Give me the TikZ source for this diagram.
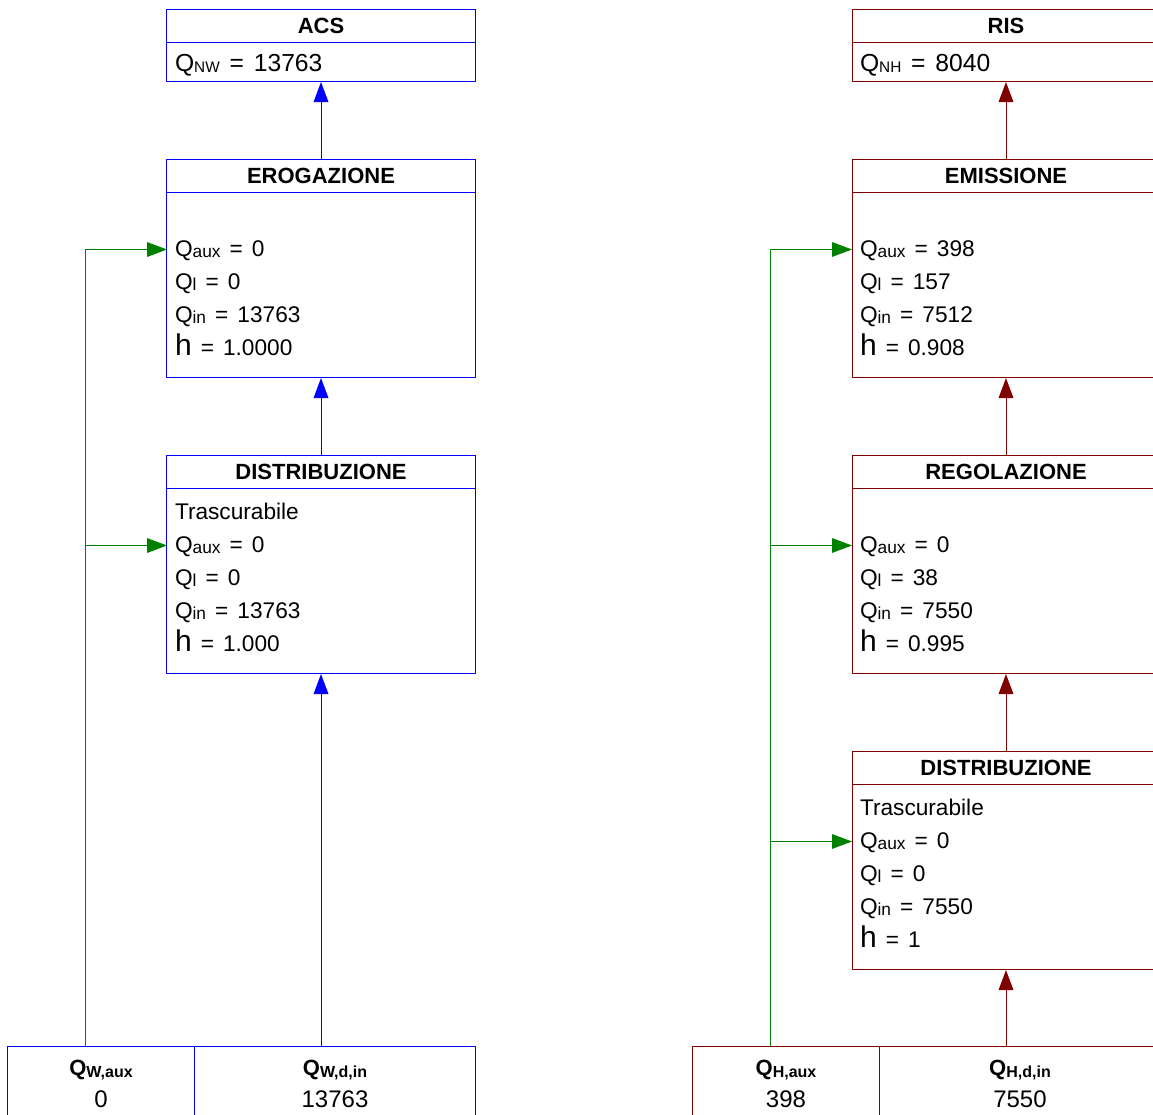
\documentclass[tikz,border=0pt]{standalone}
\usepackage{fontspec}
\setmainfont{Liberation Sans}
\usepackage{xcolor}
\usepackage{tikz}
\usetikzlibrary{matrix,positioning,arrows.meta}

\definecolor{blu}{RGB}{0,0,255}
\definecolor{rosso}{RGB}{128,0,0}
\definecolor{verde}{RGB}{0,128,0}

\newcommand{\pedice}[2][13pt]{\raisebox{-1pt}{\fontsize{#1}{#1}\selectfont #2}}
\newcommand{\ug}{\hspace{0.4em}=\hspace{0.4em}}
\newcommand{\eeta}{{\fontsize{22.5pt}{22.5pt}\selectfont h}}

\begin{document}
\begin{tikzpicture}[x=0.75pt, y=-0.75pt, line width=0.75pt,
	titolo/.style={font=\fontsize{16.5pt}{20pt}\selectfont\bfseries, text width=219pt, align=center, inner xsep=6pt, inner ysep=0pt, text height=18pt, text depth=6.75pt},
	valore/.style={font=\fontsize{18.5pt}{24.75pt}\selectfont, text width=219pt, align=left, inner xsep=6pt, inner ysep=0pt, text height=21.75pt, text depth=7.5pt},
	corpo/.style={font=\fontsize{17pt}{24.75pt}\selectfont, text width=219pt, align=left, inner xsep=6pt, inner ysep=0pt, text height=22.9pt, text depth=115.85pt},
	fonte/.style={font=\fontsize{18pt}{23.6pt}\selectfont, align=center, inner xsep=6pt, inner ysep=0pt, text height=22pt, text depth=35pt},
	blocco/.style={matrix of nodes, inner sep=0pt, outer sep=0pt, row sep=-\pgflinewidth, column sep=-\pgflinewidth, nodes={draw=#1}},
	freccia/.style={#1, -{Triangle[length=15pt, width=11pt]}}]
	\path[use as bounding box] (0,0) rectangle (1153,1114);
	\clip (0,0) rectangle (1153,1114);

	\matrix (acs) [blocco=blu, anchor=north] at (321,9) {
		|[titolo]| ACS \\
		|[valore]| Q\pedice[11.5pt]{NW}\ug 13763 \\
	};
	\matrix (erog) [blocco=blu, below=57.75pt of acs] {
		|[titolo]| EROGAZIONE \\
		|[corpo]| {\mbox{}\\Q\pedice{aux}\ug 0\\Q\pedice{l}\ug 0\\Q\pedice{in}\ug 13763\\\eeta\ug 1.0000} \\
	};
	\matrix (distW) [blocco=blu, below=57.75pt of erog] {
		|[titolo]| DISTRIBUZIONE \\
		|[corpo]| {Trascurabile\\Q\pedice{aux}\ug 0\\Q\pedice{l}\ug 0\\Q\pedice{in}\ug 13763\\\eeta\ug 1.000} \\
	};
	\matrix (fontiW) [blocco=blu, anchor=north west] at (7,1046) {
		|[fonte, text width=128.25pt]| {{\fontsize{16.5pt}{16.5pt}\selectfont\bfseries Q\pedice[12pt]{W,aux}}\\0} &
		|[fonte, text width=198.75pt]| {{\fontsize{16.5pt}{16.5pt}\selectfont\bfseries Q\pedice[12pt]{W,d,in}}\\13763} \\
	};

	\matrix (ris) [blocco=rosso, anchor=north] at (1006,9) {
		|[titolo]| RIS \\
		|[valore]| Q\pedice[11.5pt]{NH}\ug 8040 \\
	};
	\matrix (emis) [blocco=rosso, below=57.75pt of ris] {
		|[titolo]| EMISSIONE \\
		|[corpo]| {\mbox{}\\Q\pedice{aux}\ug 398\\Q\pedice{l}\ug 157\\Q\pedice{in}\ug 7512\\\eeta\ug 0.908} \\
	};
	\matrix (regol) [blocco=rosso, below=57.75pt of emis] {
		|[titolo]| REGOLAZIONE \\
		|[corpo]| {\mbox{}\\Q\pedice{aux}\ug 0\\Q\pedice{l}\ug 38\\Q\pedice{in}\ug 7550\\\eeta\ug 0.995} \\
	};
	\matrix (distH) [blocco=rosso, below=57.75pt of regol] {
		|[titolo]| DISTRIBUZIONE \\
		|[corpo]| {Trascurabile\\Q\pedice{aux}\ug 0\\Q\pedice{l}\ug 0\\Q\pedice{in}\ug 7550\\\eeta\ug 1} \\
	};
	\matrix (fontiH) [blocco=rosso, anchor=north west] at (692,1046) {
		|[fonte, text width=128.25pt]| {{\fontsize{16.5pt}{16.5pt}\selectfont\bfseries Q\pedice[12pt]{H,aux}}\\398} &
		|[fonte, text width=198.75pt]| {{\fontsize{16.5pt}{16.5pt}\selectfont\bfseries Q\pedice[12pt]{H,d,in}}\\7550} \\
	};

	\draw[freccia=blu] (erog.north) -- (acs.south);
	\draw[freccia=blu] (distW.north) -- (erog.south);
	\draw[freccia=blu] (distW.south |- fontiW.north) -- (distW.south);
	\draw[freccia=rosso] (emis.north) -- (ris.south);
	\draw[freccia=rosso] (regol.north) -- (emis.south);
	\draw[freccia=rosso] (distH.north) -- (regol.south);
	\draw[freccia=rosso] (distH.south |- fontiH.north) -- (distH.south);

	\coordinate (auxW) at (85,1046);
	\coordinate (auxH) at (770,1046);
	\coordinate (erogAux) at ([yshift=-42.75pt]erog-2-1.north west);
	\coordinate (distWAux) at ([yshift=-42.75pt]distW-2-1.north west);
	\coordinate (emisAux) at ([yshift=-42.75pt]emis-2-1.north west);
	\coordinate (regolAux) at ([yshift=-42.75pt]regol-2-1.north west);
	\coordinate (distHAux) at ([yshift=-42.75pt]distH-2-1.north west);
	\draw[freccia=verde] (auxW) |- (erogAux);
	\draw[freccia=verde] (auxW |- distWAux) -- (distWAux);
	\draw[freccia=verde] (auxH) |- (emisAux);
	\draw[freccia=verde] (auxH |- regolAux) -- (regolAux);
	\draw[freccia=verde] (auxH |- distHAux) -- (distHAux);
\end{tikzpicture}
\end{document}
